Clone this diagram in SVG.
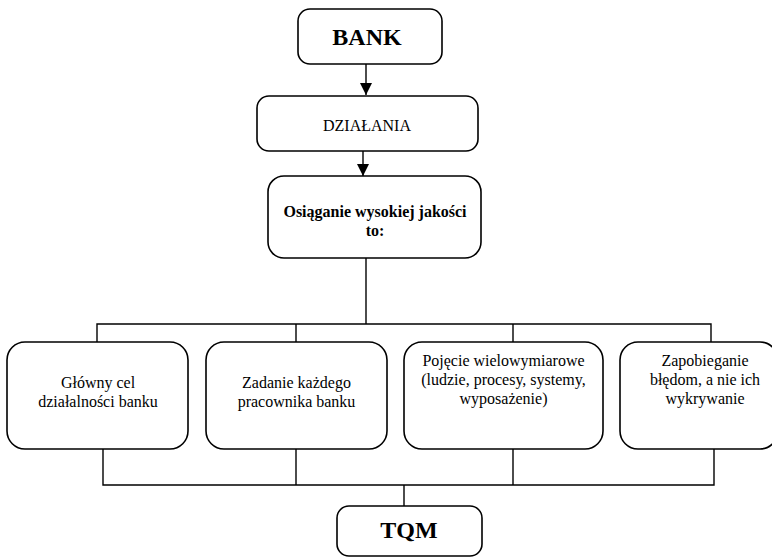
<svg xmlns="http://www.w3.org/2000/svg" width="772" height="558" viewBox="0 0 772 558">
<style>
.box{fill:#fff;stroke:#000;stroke-width:1.6}
.ln{fill:none;stroke:#000;stroke-width:1.4}
text{font-family:"Liberation Serif","Times New Roman",serif;fill:#000;text-anchor:middle}
.big{font-size:24px;font-weight:bold}
.t{font-size:16px}
.b{font-size:16px;font-weight:bold}
</style>
<defs>
<marker id="ah" viewBox="0 0 12 12" refX="12" refY="6" markerWidth="12" markerHeight="12" markerUnits="userSpaceOnUse" orient="auto">
<path d="M0,0 L12,6 L0,12 Z" fill="#000"/>
</marker>
</defs>
<rect width="772" height="558" fill="#fff"/>
<g id="connectors">
<line class="ln" x1="366" y1="64" x2="366" y2="95" marker-end="url(#ah)"/>
<line class="ln" x1="363" y1="151" x2="363" y2="176" marker-end="url(#ah)"/>
<polyline class="ln" points="366,258 366,324"/>
<polyline class="ln" points="97,342 97,324 711,324 711,342"/>
<line class="ln" x1="296" y1="324" x2="296" y2="342"/>
<line class="ln" x1="513" y1="324" x2="513" y2="342"/>
<polyline class="ln" points="103,449 103,485 714,485 714,449"/>
<line class="ln" x1="296" y1="449" x2="296" y2="485"/>
<line class="ln" x1="513" y1="449" x2="513" y2="485"/>
<line class="ln" x1="404" y1="485" x2="404" y2="506"/>
</g>
<g id="bank">
<rect class="box" x="298" y="9" width="144" height="55" rx="12"/>
<text class="big" x="367" y="45">BANK</text>
</g>
<g id="dzialania">
<rect class="box" x="257" y="96" width="221" height="55" rx="12"/>
<text class="t" x="367" y="131">DZIAŁANIA</text>
</g>
<g id="osiaganie">
<rect class="box" x="268" y="176" width="213" height="82" rx="16"/>
<text class="b" x="375" y="217">Osiąganie wysokiej jakości</text>
<text class="b" x="375" y="236">to:</text>
</g>
<g id="cel">
<rect class="box" x="7" y="342" width="181" height="107" rx="18"/>
<text class="t" x="98" y="388">Główny cel</text>
<text class="t" x="98" y="407">działalności banku</text>
</g>
<g id="zadanie">
<rect class="box" x="206" y="342" width="181" height="107" rx="18"/>
<text class="t" x="296.5" y="388">Zadanie każdego</text>
<text class="t" x="296.5" y="407">pracownika banku</text>
</g>
<g id="pojecie">
<rect class="box" x="404" y="342" width="199" height="107" rx="18"/>
<text class="t" x="503.5" y="366">Pojęcie wielowymiarowe</text>
<text class="t" x="503.5" y="385">(ludzie, procesy, systemy,</text>
<text class="t" x="503.5" y="404">wyposażenie)</text>
</g>
<g id="zapobieganie">
<rect class="box" x="620" y="342" width="158" height="107" rx="18"/>
<text class="t" x="705" y="366">Zapobieganie</text>
<text class="t" x="705" y="385">błędom, a nie ich</text>
<text class="t" x="705" y="404">wykrywanie</text>
</g>
<g id="tqm">
<rect class="box" x="337" y="506" width="145" height="50" rx="12"/>
<text class="big" x="409" y="538">TQM</text>
</g>
</svg>
